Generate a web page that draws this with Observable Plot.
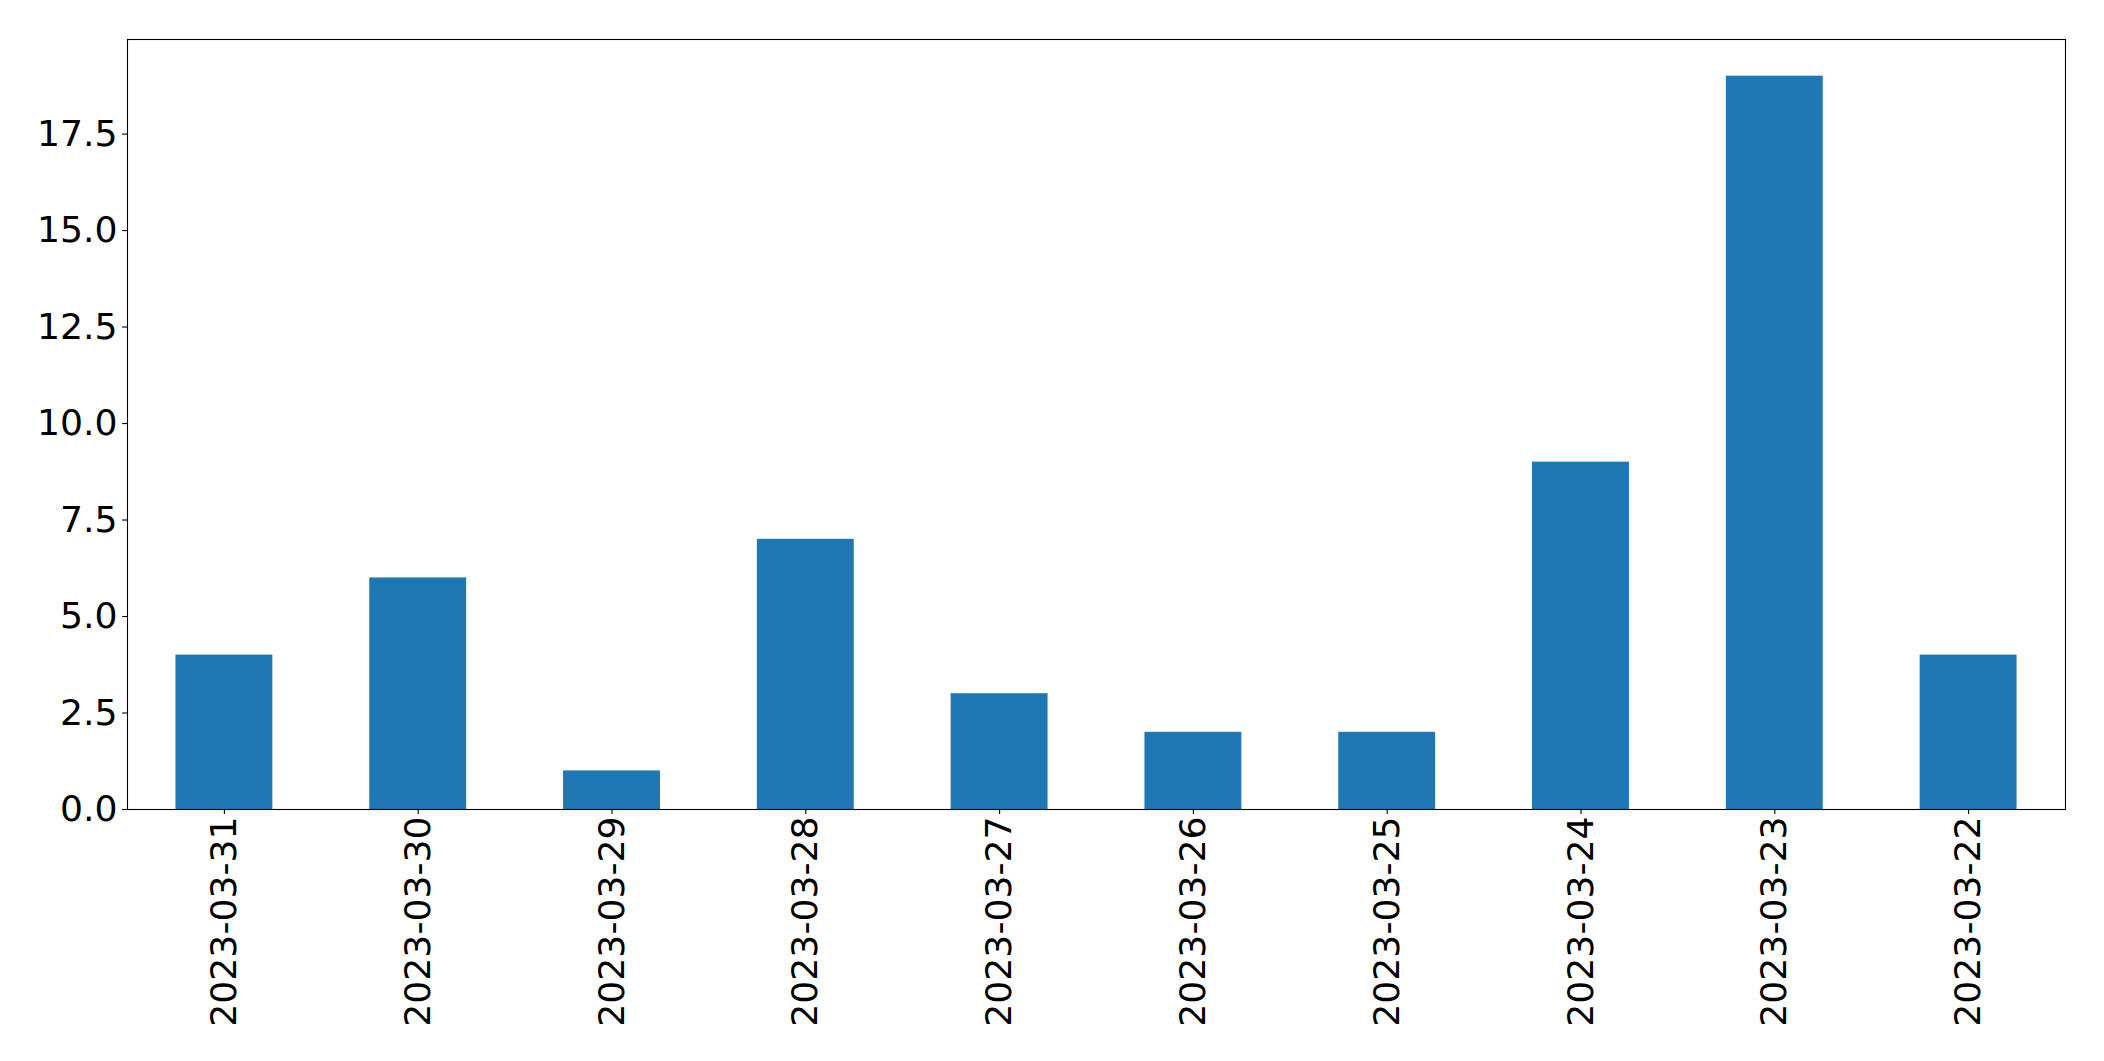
<!DOCTYPE html>
<html>
<head>
<meta charset="utf-8">
<script src="https://cdn.jsdelivr.net/npm/d3@7"></script>
<script src="https://cdn.jsdelivr.net/npm/@observablehq/plot@0.6"></script>
<style>
  html, body { margin: 0; padding: 0; background: white; }
  #chart svg { display: block; }
</style>
</head>
<body>
<div id="chart"></div>
<script>
const dates = ["2023-03-31", "2023-03-30", "2023-03-29", "2023-03-28", "2023-03-27",
               "2023-03-26", "2023-03-25", "2023-03-24", "2023-03-23", "2023-03-22"];
const counts = [4, 6, 1, 7, 3, 2, 2, 9, 19, 4];
const yTicks = [0, 2.5, 5, 7.5, 10, 12.5, 15, 17.5];

const data = dates.map((d, i) => ({date: d, count: counts[i]}));

const chart = Plot.plot({
  width: 2104,
  height: 1061,
  marginLeft: 127,
  marginRight: 39,
  marginTop: 39,
  marginBottom: 252,
  style: {fontFamily: "'DejaVu Sans', sans-serif", fontSize: "36.2px", color: "black", background: "white", overflow: "visible"},
  x: {domain: dates, paddingInner: 0.5, paddingOuter: 0.25, align: 0.5, round: false, label: null},
  y: {domain: [0, 19.95], label: null},
  marks: [
    Plot.barY(data, {x: "date", y: "count", fill: "#1f77b4"}),
    Plot.axisY({ticks: yTicks, tickFormat: d3.format(".1f"), tickSize: 4.9, tickPadding: 5, strokeWidth: 1.1, label: null}),
    Plot.axisX({tickRotate: -90, tickSize: 4.9, tickPadding: 2, strokeWidth: 1.1, label: null}),
    Plot.frame({stroke: "black", strokeWidth: 1.1})
  ]
});
document.getElementById("chart").appendChild(chart);
</script>
</body>
</html>
